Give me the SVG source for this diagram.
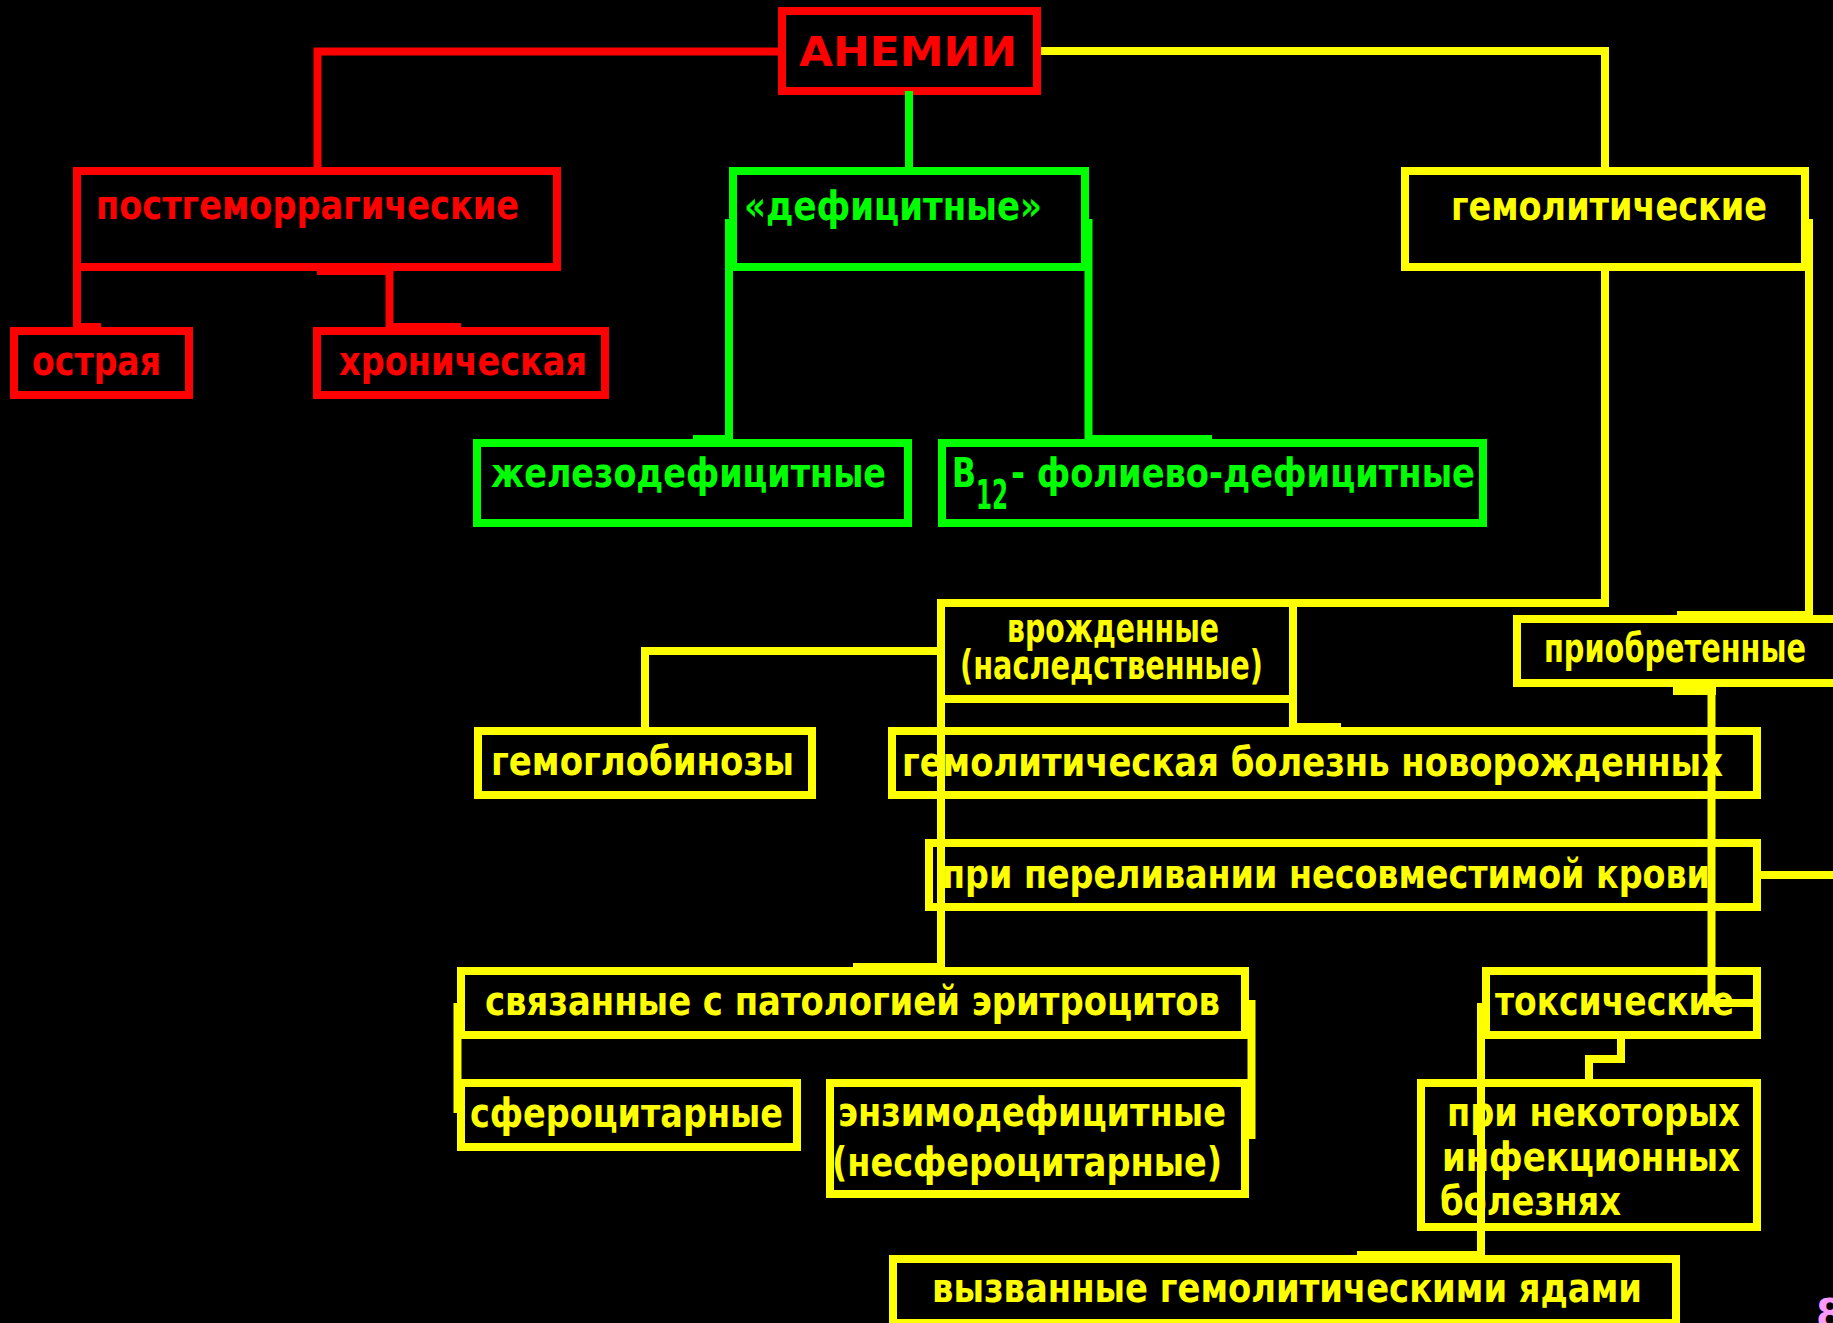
<svg xmlns="http://www.w3.org/2000/svg" width="1833" height="1323" viewBox="0 0 1833 1323">
<style>
.bx{fill:none;stroke-width:8}
.ln{fill:none;stroke-width:8;stroke-linejoin:miter;stroke-linecap:butt}
.r{stroke:#FF0000}.g{stroke:#00FF00}.y{stroke:#FFFF00}
.fr{fill:#FF0000}.fg{fill:#00FF00}.fy{fill:#FFFF00}
text{font-family:"DejaVu Sans","Open Sans",sans-serif;font-weight:700;font-size:40px}
</style>
<rect x="0" y="0" width="1833" height="1323" fill="#000000"/>
<g id="nodes">
<g id="anemii"><rect class="bx r" x="782" y="11" width="255" height="80"/><text class="fr" x="799" y="66" font-size="54" textLength="218" lengthAdjust="spacingAndGlyphs">АНЕМИИ</text></g>
<g id="postgem"><rect class="bx r" x="77" y="171" width="480" height="96"/><text class="fr" x="96" y="219" textLength="423" lengthAdjust="spacingAndGlyphs">постгеморрагические</text></g>
<g id="ostraya"><rect class="bx r" x="14" y="331" width="175" height="64"/><text class="fr" x="32" y="375" textLength="129" lengthAdjust="spacingAndGlyphs">острая</text></g>
<g id="hronich"><rect class="bx r" x="317" y="331" width="288" height="64"/><text class="fr" x="339" y="375" textLength="248" lengthAdjust="spacingAndGlyphs">хроническая</text></g>
<g id="deficit"><rect class="bx g" x="733" y="171" width="352" height="96"/><text class="fg" x="744" y="220" font-size="41" textLength="298" lengthAdjust="spacingAndGlyphs">«дефицитные»</text></g>
<g id="zhelezo"><rect class="bx g" x="477" y="443" width="431" height="80"/><text class="fg" x="491" y="487" textLength="395" lengthAdjust="spacingAndGlyphs">железодефицитные</text></g>
<g id="b12"><rect class="bx g" x="942" y="443" width="541" height="80"/><text class="fg" x="952" y="487" textLength="24" lengthAdjust="spacingAndGlyphs">В</text><text class="fg" x="976" y="509" font-size="24" textLength="32" lengthAdjust="spacingAndGlyphs">12</text><text class="fg" x="1011" y="487" textLength="464" lengthAdjust="spacingAndGlyphs">- фолиево-дефицитные</text></g>
<g id="gemolit"><rect class="bx y" x="1405" y="171" width="400" height="96"/><text class="fy" x="1451" y="220" textLength="316" lengthAdjust="spacingAndGlyphs">гемолитические</text></g>
<g id="vrozhd"><rect class="bx y" x="941" y="603" width="352" height="96"/><text class="fy" x="1007" y="642" font-size="36" textLength="212" lengthAdjust="spacingAndGlyphs">врожденные</text><text class="fy" x="960" y="679" font-size="36" textLength="303" lengthAdjust="spacingAndGlyphs">(наследственные)</text></g>
<g id="priobr"><rect class="bx y" x="1517" y="619" width="400" height="64"/><text class="fy" x="1544" y="662" font-size="36" textLength="262" lengthAdjust="spacingAndGlyphs">приобретенные</text></g>
<g id="gemoglob"><rect class="bx y" x="478" y="731" width="334" height="64"/><text class="fy" x="491" y="775" textLength="303" lengthAdjust="spacingAndGlyphs">гемоглобинозы</text></g>
<g id="bolezn"><rect class="bx y" x="892" y="731" width="865" height="64"/><text class="fy" x="902" y="776" textLength="821" lengthAdjust="spacingAndGlyphs">гемолитическая болезнь новорожденных</text></g>
<g id="perel"><rect class="bx y" x="929" y="843" width="828" height="64"/><text class="fy" x="942" y="888" textLength="768" lengthAdjust="spacingAndGlyphs">при переливании несовместимой крови</text></g>
<g id="svyaz"><rect class="bx y" x="461" y="971" width="784" height="64"/><text class="fy" x="485" y="1015" textLength="735" lengthAdjust="spacingAndGlyphs">связанные с патологией эритроцитов</text></g>
<g id="sfero"><rect class="bx y" x="461" y="1083" width="336" height="64"/><text class="fy" x="470" y="1127" textLength="313" lengthAdjust="spacingAndGlyphs">сфероцитарные</text></g>
<g id="enzim"><rect class="bx y" x="830" y="1083" width="415" height="111"/><text class="fy" x="838" y="1126" textLength="388" lengthAdjust="spacingAndGlyphs">энзимодефицитные</text><text class="fy" x="832" y="1176" textLength="390" lengthAdjust="spacingAndGlyphs">(несфероцитарные)</text></g>
<g id="toksich"><rect class="bx y" x="1486" y="971" width="271" height="64"/><text class="fy" x="1495" y="1015" textLength="239" lengthAdjust="spacingAndGlyphs">токсические</text></g>
<g id="infekc"><rect class="bx y" x="1421" y="1083" width="336" height="144"/><text class="fy" x="1447" y="1126" textLength="293" lengthAdjust="spacingAndGlyphs">при некоторых</text><text class="fy" x="1442" y="1171" textLength="298" lengthAdjust="spacingAndGlyphs">инфекционных</text><text class="fy" x="1440" y="1215" textLength="181" lengthAdjust="spacingAndGlyphs">болезнях</text></g>
<g id="yady"><rect class="bx y" x="893" y="1259" width="783" height="64"/><text class="fy" x="932" y="1302" textLength="710" lengthAdjust="spacingAndGlyphs">вызванные гемолитическими ядами</text></g>
<g id="slidenum"><text x="1816" y="1328" font-size="44" fill="#FF99FF">8</text></g>
</g>
<g id="connectors">
<path class="ln r" d="M778,51.5 H317.5 V171"/>
<path class="ln r" d="M77,267 V331"/>
<rect class="fr" x="73" y="323" width="28" height="5"/>
<rect class="fr" x="317" y="271" width="75" height="4"/>
<path class="ln r" d="M389.5,271 V331"/>
<rect class="fr" x="386" y="323" width="75" height="5"/>
<path class="ln g" d="M909,91 V171"/>
<path class="ln g" d="M729,219 V443"/>
<rect class="fg" x="693" y="435" width="36" height="5"/>
<path class="ln g" d="M1088.5,219 V443"/>
<rect class="fg" x="1088" y="435" width="124" height="5"/>
<path class="ln y" d="M1041,51 H1605 V171"/>
<path class="ln y" d="M1605,267 V603 H1293"/>
<path class="ln y" d="M1809,219 V615"/>
<rect class="fy" x="1677" y="611" width="132" height="5"/>
<path class="ln y" d="M941,651 H645 V731"/>
<path class="ln y" d="M941,699 V967"/>
<rect class="fy" x="853" y="963" width="92" height="5"/>
<path class="ln y" d="M1293,699 V727"/>
<rect class="fy" x="1290" y="723" width="51" height="5"/>
<path class="ln y" d="M1761,875 H1833"/>
<rect class="fy" x="1673" y="687" width="43" height="8"/>
<path class="ln y" d="M1711.5,687 V1003 H1753"/>
<path class="ln y" d="M457.5,1003 V1113"/>
<path class="ln y" d="M1251.5,1000 V1139"/>
<path class="ln y" d="M1481,1003 V1255"/>
<rect class="fy" x="1357" y="1251" width="128" height="5"/>
<path class="ln y" d="M1621,1035 V1059 H1589 V1083"/>
</g>
</svg>
